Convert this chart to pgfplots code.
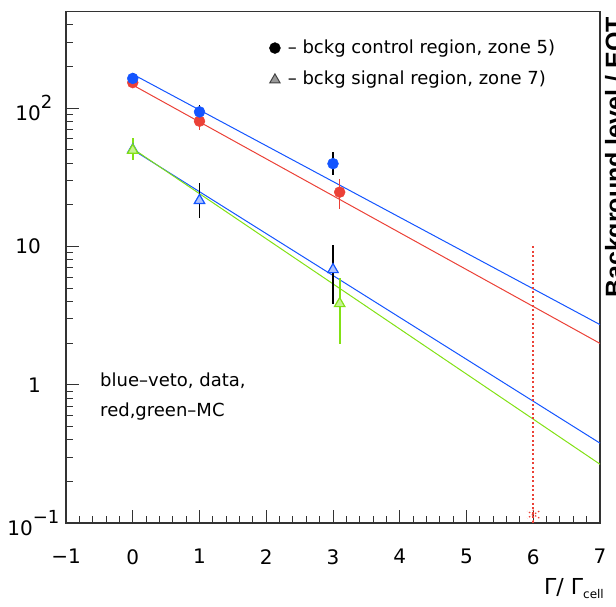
\documentclass[border=0pt]{standalone}
\usepackage{fontspec}
\setmainfont{DejaVu Sans}
\setsansfont{Liberation Sans}
\usepackage{pgfplots}
\pgfplotsset{compat=1.18}
\definecolor{cblue}{RGB}{20,85,255}
\definecolor{cred}{RGB}{235,65,55}
\definecolor{cgreen}{RGB}{130,225,20}
\newcommand\sups[1]{\raisebox{12pt}{\fontsize{18}{18}\selectfont #1}}
\begin{document}
\begin{tikzpicture}[x=1pt,y=1pt]
\useasboundingbox (0,0) rectangle (616,606);
\begin{axis}[
  at={(66pt,83pt)}, anchor=south west,
  scale only axis, width=534pt, height=511.5pt,
  xmin=-1, xmax=7, ymode=log, ymin=0.1, ymax=500,
  axis line style={line width=1.2pt, black!80},
  tick style={black!80, line width=1pt},
  tick align=inside, xtick pos=lower, ytick pos=left,
  major tick length=13pt, minor tick length=7pt,
  xtick={-1,0,1,2,3,4,5,6,7},
  xticklabels={−1,0,1,2,3,4,5,6,7},
  minor xtick={-0.8,-0.6,-0.4,-0.2,0.2,0.4,0.6,0.8,1.2,1.4,1.6,1.8,2.2,2.4,2.6,2.8,3.2,3.4,3.6,3.8,4.2,4.4,4.6,4.8,5.2,5.4,5.6,5.8,6.2,6.4,6.6,6.8},
  ytick={0.1,1,10,100},
  yticklabels={10\rlap{\sups{−1}}\hspace*{8pt},1,10,10\rlap{\sups{2}}},
  minor ytick={0.2,0.3,0.4,0.5,0.6,0.7,0.8,0.9,2,3,4,5,6,7,8,9,20,30,40,50,60,70,80,90,200,300,400},
  xticklabel style={font=\fontsize{20}{20}\selectfont, anchor=north, inner sep=0pt, yshift=-26pt},
  yticklabel style={font=\fontsize{20}{20}\selectfont, anchor=east, inner sep=0pt, xshift=-25pt},
  clip=false,
]
% fits
\addplot[cblue, line width=1pt] coordinates {(0,176) (7,2.72)};
\addplot[cred, line width=1pt] coordinates {(0,147) (7,1.99)};
\addplot[cblue, line width=1pt] coordinates {(0,50) (7,0.378)};
\addplot[cgreen, line width=1pt] coordinates {(0,51) (7,0.266)};
% vertical dotted line
\addplot[draw=cred, line width=2pt, dash pattern=on 2pt off 2.5pt] coordinates {(6,10) (6,0.1)};
\addplot[only marks, mark=asterisk, mark size=7pt, mark options={draw=cred, line width=1.2pt, dash pattern=on 1.5pt off 2pt}] coordinates {(6,0.115)};
% red MC control
\addplot[cred, only marks, mark=*, mark size=5.5pt,
  error bars/.cd, y dir=both, y explicit, error bar style={draw=cred, line width=1.6pt}, error mark=none]
  coordinates {(0,153) += (0,8) -= (0,8) (1,80.5) += (0,8) -= (0,11) (3.1,24.7) += (0,5.9) -= (0,5.9)};
% blue data control
\addplot[cblue, only marks, mark=*, mark size=5.5pt,
  error bars/.cd, y dir=both, y explicit, error bar style={draw=black, line width=1.6pt}, error mark=none]
  coordinates {(0,164) += (0,16) -= (0,13) (1,94) += (0,11) -= (0,7.5) (3,39.7) += (0,8.3) -= (0,7)};
% blue data signal
\addplot[cblue, only marks, mark=triangle*, mark size=6pt, mark options={fill=cblue!35, draw=cblue, line width=1.2pt},
  error bars/.cd, y dir=both, y explicit, error bar style={draw=black, line width=1.6pt}, error mark=none]
  coordinates {(0,50) += (0,10) -= (0,8) (1,21.5) += (0,7.1) -= (0,5.5) (3,6.8) += (0,3.4) -= (0,2.94)};
% green MC signal
\addplot[cgreen, only marks, mark=triangle*, mark size=6pt, mark options={fill=cgreen!45, draw=cgreen, line width=1.2pt},
  error bars/.cd, y dir=both, y explicit, error bar style={draw=cgreen, line width=1.8pt}, error mark=none]
  coordinates {(0,49.6) += (0,11) -= (0,7.6) (3.1,3.86) += (0,2.1) -= (0,1.88)};
% legend markers
\addplot[black, only marks, mark=*, mark size=5.5pt] coordinates {(2.13,272)};
\addplot[only marks, mark=triangle*, mark size=6pt, mark options={draw=black!75, fill=black!40, line width=1pt}] coordinates {(2.13,160)};
\node[anchor=west, inner sep=0pt, font=\fontsize{18}{18}\selectfont] at (axis cs:2.32,272) {– bckg control region, zone 5)};
\node[anchor=west, inner sep=0pt, font=\fontsize{18}{18}\selectfont] at (axis cs:2.32,160) {– bckg signal region, zone 7)};
\node[anchor=west, inner sep=0pt, font=\fontsize{18}{18}\selectfont] at (axis cs:-0.49,1.07) {blue–veto, data,};
\node[anchor=west, inner sep=0pt, font=\fontsize{18}{18}\selectfont] at (axis cs:-0.49,0.637) {red,green–MC};
\end{axis}
\node[anchor=base east, inner sep=0pt] at (604pt,12pt) {\fontsize{22}{22}\selectfont Γ/ Γ\raisebox{-4pt}{\fontsize{12}{12}\selectfont cell}};
\node[anchor=base west, rotate=90, inner sep=0pt, font=\sffamily\bfseries\fontsize{25}{25}\selectfont] at (623pt,308pt) {Background level / EOT};
\end{tikzpicture}
\end{document}
